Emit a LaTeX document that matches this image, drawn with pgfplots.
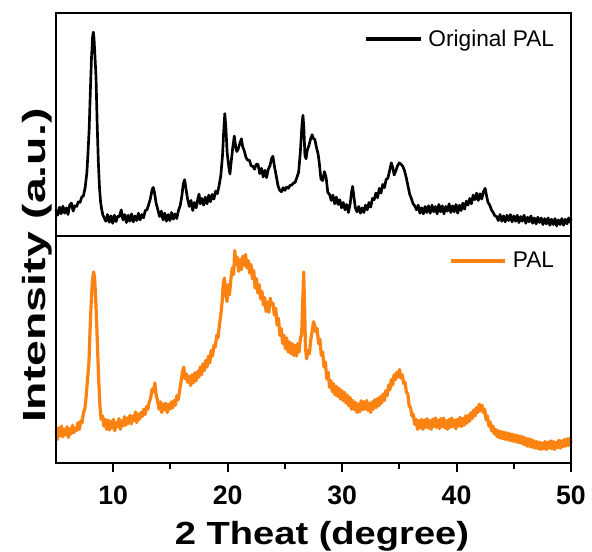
\documentclass[border=0pt]{standalone}
\usepackage{fontspec}
\setmainfont{Liberation Sans}
\usepackage{graphicx}
\usepackage{pgfplots}
\usepackage{pgfplotstable}
\pgfplotsset{compat=1.18}
\definecolor{palorange}{RGB}{252,130,18}

\pgfplotstableread{
x y
5.00 78
5.15 62
5.30 86
5.45 66
5.60 89
5.75 68
5.90 84
6.05 64
6.20 92
6.35 98
6.50 74
6.65 90
6.80 88
6.95 102
7.10 100
7.25 116
7.40 120
7.55 145
7.70 190
7.80 250
7.90 320
8.00 430
8.10 530
8.20 595
8.26 608
8.32 590
8.40 540
8.50 470
8.60 330
8.70 220
8.80 145
8.90 100
9.00 78
9.10 62
9.20 55
9.35 44
9.50 64
9.65 41
9.80 60
9.95 38
10.10 62
10.25 43
10.40 59
10.55 58
10.70 78
10.85 48
11.00 64
11.15 40
11.30 62
11.45 44
11.60 66
11.75 42
11.90 60
12.05 46
12.20 68
12.35 48
12.50 64
12.65 54
12.80 76
12.95 78
13.10 94
13.25 112
13.40 138
13.50 145
13.60 130
13.75 98
13.90 78
14.05 58
14.20 74
14.35 48
14.50 68
14.65 44
14.80 64
14.95 46
15.10 70
15.25 50
15.40 66
15.55 52
15.70 76
15.85 90
16.00 120
16.12 155
16.24 168
16.36 140
16.50 110
16.65 88
16.80 106
16.95 76
17.10 100
17.25 84
17.40 112
17.50 125
17.60 96
17.75 112
17.90 92
18.05 116
18.20 96
18.35 122
18.50 102
18.65 124
18.80 110
18.95 134
19.10 126
19.25 150
19.40 180
19.55 240
19.65 310
19.75 365
19.85 320
19.95 250
20.10 206
20.20 185
20.30 219
20.45 265
20.58 298
20.70 266
20.80 252
20.90 258
21.05 274
21.20 290
21.30 268
21.45 254
21.60 234
21.75 226
21.90 226
22.05 209
22.20 208
22.35 199
22.50 214
22.65 214
22.80 186
22.95 202
23.10 176
23.25 196
23.40 174
23.55 199
23.70 210
23.85 232
23.95 238
24.10 205
24.25 178
24.40 150
24.55 136
24.70 132
24.85 144
25.00 136
25.15 146
25.30 142
25.45 151
25.60 152
25.75 158
25.90 160
26.05 175
26.20 190
26.35 250
26.50 335
26.58 360
26.66 320
26.75 240
26.85 230
26.95 255
27.10 270
27.25 290
27.38 302
27.50 290
27.62 288
27.75 265
27.90 245
28.00 220
28.15 170
28.30 165
28.45 192
28.60 175
28.75 130
28.90 124
29.05 106
29.20 122
29.35 96
29.50 116
29.65 94
29.80 108
29.95 84
30.10 100
30.25 78
30.40 94
30.55 70
30.70 95
30.82 130
30.92 148
31.02 120
31.15 85
31.30 72
31.45 88
31.60 68
31.75 84
31.90 70
32.05 92
32.20 78
32.35 100
32.50 86
32.65 112
32.80 108
32.95 128
33.10 114
33.25 142
33.40 128
33.55 154
33.70 144
33.85 169
34.00 172
34.15 195
34.30 218
34.42 205
34.55 182
34.70 195
34.85 210
35.00 218
35.15 214
35.30 208
35.45 195
35.60 175
35.75 150
35.90 125
36.05 112
36.20 96
36.35 90
36.50 78
36.65 92
36.80 68
36.95 84
37.10 66
37.25 88
37.40 70
37.55 90
37.70 68
37.85 92
38.00 72
38.15 88
38.30 66
38.45 94
38.60 72
38.75 90
38.90 66
39.05 88
39.20 74
39.35 96
39.50 70
39.65 90
39.80 72
39.95 94
40.10 68
40.25 92
40.40 76
40.55 98
40.70 80
40.85 104
41.00 92
41.15 112
41.30 96
41.45 122
41.60 108
41.75 128
41.90 106
42.05 126
42.20 110
42.35 132
42.50 142
42.62 120
42.75 100
42.90 92
43.05 78
43.20 70
43.35 60
43.50 58
43.65 46
43.80 64
43.95 44
44.10 60
44.25 42
44.40 62
44.55 46
44.70 64
44.85 42
45.00 60
45.15 44
45.30 62
45.45 40
45.60 58
45.75 44
45.90 62
46.05 38
46.20 56
46.35 42
46.50 60
46.65 38
46.80 54
46.95 36
47.10 56
47.25 40
47.40 54
47.55 34
47.70 52
47.85 36
48.00 54
48.15 32
48.30 50
48.45 34
48.60 52
48.75 30
48.90 48
49.05 34
49.20 52
49.35 32
49.50 50
49.65 36
49.80 54
49.95 40
50.00 52
}\toptable

\pgfplotstableread{
x y
5.00 95
5.12 70
5.24 105
5.36 80
5.48 110
5.60 78
5.72 100
5.84 84
5.96 108
6.08 76
6.20 102
6.32 86
6.44 112
6.56 90
6.68 104
6.80 96
6.92 120
7.04 100
7.16 125
7.28 120
7.40 150
7.52 160
7.64 200
7.76 250
7.88 300
7.98 400
8.08 480
8.18 540
8.28 568
8.36 555
8.44 510
8.54 430
8.64 330
8.74 240
8.84 170
8.94 130
9.06 140
9.18 110
9.30 130
9.42 100
9.54 128
9.66 98
9.78 124
9.90 104
10.02 130
10.14 96
10.26 120
10.38 108
10.50 132
10.62 100
10.74 126
10.86 110
10.98 138
11.10 112
11.22 134
11.34 118
11.46 142
11.58 116
11.70 140
11.82 126
11.94 152
12.06 120
12.18 146
12.30 130
12.42 150
12.54 138
12.66 160
12.78 144
12.90 168
13.02 160
13.14 180
13.26 192
13.40 220
13.52 212
13.64 238
13.76 200
13.88 185
14.00 160
14.12 182
14.24 150
14.36 176
14.48 158
14.60 178
14.72 150
14.84 174
14.96 160
15.08 182
15.20 164
15.32 186
15.44 172
15.56 200
15.68 188
15.80 215
15.92 240
16.04 270
16.16 285
16.28 250
16.40 265
16.52 240
16.64 258
16.76 230
16.88 262
17.00 238
17.12 268
17.24 244
17.36 272
17.48 255
17.60 285
17.72 262
17.84 295
17.96 275
18.08 305
18.20 285
18.32 318
18.44 298
18.56 335
18.68 318
18.80 350
18.92 345
19.04 380
19.16 372
19.28 410
19.40 440
19.52 480
19.62 535
19.72 550
19.82 505
19.94 480
20.04 530
20.16 500
20.28 545
20.40 580
20.52 560
20.62 632
20.72 590
20.84 612
20.96 570
21.08 605
21.20 575
21.32 615
21.44 588
21.56 620
21.68 580
21.80 602
21.92 565
22.04 590
22.16 548
22.28 572
22.40 520
22.52 548
22.64 505
22.76 530
22.88 488
23.00 510
23.12 470
23.24 492
23.36 450
23.48 478
23.60 448
23.72 490
23.84 470
23.96 475
24.08 440
24.20 460
24.32 410
24.44 430
24.56 380
24.68 400
24.80 355
24.92 380
25.04 340
25.16 372
25.28 330
25.40 360
25.52 325
25.64 355
25.76 320
25.88 350
26.00 318
26.12 355
26.24 330
26.36 372
26.46 380
26.56 480
26.64 568
26.72 470
26.80 340
26.90 310
27.02 335
27.14 325
27.26 365
27.38 392
27.50 420
27.60 410
27.70 390
27.82 400
27.94 355
28.06 368
28.18 320
28.30 330
28.42 285
28.54 300
28.66 250
28.78 270
28.90 225
29.02 245
29.14 212
29.26 236
29.38 202
29.50 228
29.62 198
29.74 222
29.86 190
29.98 215
30.10 185
30.22 210
30.34 178
30.46 202
30.58 170
30.70 195
30.82 160
30.94 186
31.06 158
31.18 180
31.30 150
31.42 176
31.54 152
31.66 185
31.78 158
31.90 182
32.02 160
32.14 186
32.26 156
32.38 178
32.50 150
32.62 182
32.74 160
32.86 188
32.98 165
33.10 192
33.22 170
33.34 198
33.46 178
33.58 205
33.70 186
33.82 215
33.94 200
34.06 232
34.18 218
34.30 248
34.42 232
34.54 262
34.66 248
34.78 270
34.90 255
35.02 278
35.14 252
35.26 262
35.38 236
35.50 240
35.62 210
35.74 205
35.86 170
35.98 165
36.10 140
36.22 145
36.34 115
36.46 130
36.58 100
36.70 126
36.82 104
36.94 130
37.06 100
37.18 128
37.30 106
37.42 132
37.54 104
37.66 126
37.78 100
37.90 130
38.02 108
38.14 134
38.26 106
38.38 128
38.50 102
38.62 132
38.74 108
38.86 134
38.98 104
39.10 126
39.22 100
39.34 130
39.46 106
39.58 134
39.70 108
39.82 128
39.94 102
40.06 130
40.18 110
40.30 136
40.42 108
40.54 132
40.66 112
40.78 140
40.90 118
41.02 142
41.14 124
41.26 150
41.38 132
41.50 158
41.62 140
41.74 165
41.86 150
41.98 175
42.10 155
42.22 172
42.34 150
42.46 160
42.58 128
42.70 140
42.82 110
42.94 122
43.06 95
43.18 110
43.30 86
43.42 100
43.54 78
43.66 96
43.78 74
43.90 94
44.02 72
44.14 92
44.26 70
44.38 90
44.50 68
44.62 88
44.74 66
44.86 86
44.98 64
45.10 84
45.22 62
45.34 82
45.46 60
45.58 80
45.70 58
45.82 78
45.94 54
46.06 74
46.18 50
46.30 72
46.42 48
46.54 70
46.66 46
46.78 66
46.90 44
47.02 64
47.14 42
47.26 62
47.38 40
47.50 60
47.62 42
47.74 64
47.86 40
47.98 62
48.10 44
48.22 66
48.34 42
48.46 64
48.58 40
48.70 62
48.82 46
48.94 68
49.06 44
49.18 66
49.30 48
49.42 70
49.54 50
49.66 72
49.78 52
49.90 74
50.00 60
}\bottable

\pgfplotsset{
  panel/.style={
    scale only axis,
    width=386.25pt,
    xmin=5, xmax=50,
    ytick=\empty,
    clip=false,
    axis line style={draw=none},
    legend cell align=left,
    legend style={draw=none, fill=none, inner sep=0pt, outer sep=0pt,
      font=\fontsize{17}{17}\selectfont, anchor=east,
      nodes={inner sep=0pt}},
    legend image code/.code={\draw[##1, line width=2.4pt] (0pt,0pt) -- (41pt,0pt); \path (45.5pt,0pt);},
  }
}

\begin{document}
\begin{tikzpicture}
\path[use as bounding box] (-42pt,-66.75pt) rectangle (402pt,347.25pt);

% bottom panel
\begin{axis}[panel,
  at={(0pt,0pt)}, anchor=south west,
  height=170.25pt,
  ymin=0, ymax=675,
  xtick={10,20,30,40,50},
  minor xtick={15,25,35,45},
  xtick pos=left,
  tick align=outside,
  major tick length=7pt,
  minor tick length=4.5pt,
  every tick/.style={black, line width=1.5pt},
  /pgf/number format/assume math mode=true,
  xticklabel style={font=\bfseries\fontsize{20}{20}\selectfont, yshift=-7pt},
  legend style={at={(0.967,0.89)}},
  extra description/.code={
    \draw[line width=2.2pt, line join=miter] (0,1) -- (0,0) -- (1,0) -- (1,1);
    \draw[line width=0.8pt] (0,1) -- (1,1);
  },
]
\addplot[palorange, line width=2.4pt, line join=round] table[x=x, y=y] {\bottable};
\addlegendentry{PAL}
\end{axis}

% top panel
\begin{axis}[panel,
  at={(0pt,170.25pt)}, anchor=south west,
  height=167.25pt,
  ymin=0, ymax=665,
  xtick=\empty,
  legend style={at={(0.967,0.883)}},
  extra description/.code={
    \draw[line width=2.2pt, line join=miter] (0,0) -- (0,1) -- (1,1) -- (1,0);
    \draw[line width=0.8pt] (0,0) -- (1,0);
  },
]
\addplot[black, line width=2.0pt, line join=round] table[x=x, y=y] {\toptable};
\addlegendentry{Original PAL}
\end{axis}

\node[rotate=90, anchor=base, font=\bfseries\fontsize{24}{24}\selectfont]
  at (-8.25pt,148pt) {\scalebox{1.45}[1]{Intensity (a.u.)}};
\node[anchor=base, font=\bfseries\fontsize{24}{24}\selectfont]
  at (199.5pt,-61pt) {\scalebox{1.19}[1]{2 Theat (degree)}};
\end{tikzpicture}
\end{document}
